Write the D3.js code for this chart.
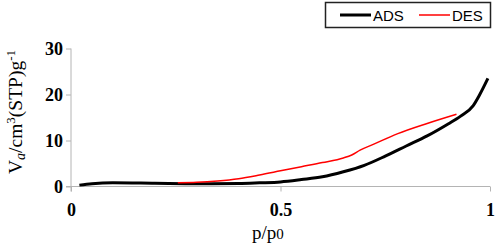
<!DOCTYPE html>
<html>
<head>
<meta charset="utf-8">
<script src="https://cdn.jsdelivr.net/npm/d3@7"></script>
<style>
  body { margin: 0; background: #fff; }
  svg { display: block; }
</style>
</head>
<body>
<script>
// isotherm data
const adsP = [0.02, 0.05, 0.1, 0.2, 0.3, 0.4, 0.45, 0.5, 0.55, 0.6, 0.65, 0.7, 0.75, 0.8, 0.85, 0.9, 0.93, 0.96, 0.975, 0.995];
const adsV = [0.3, 0.6, 0.8, 0.7, 0.6, 0.65, 0.8, 1.0, 1.5, 2.1, 3.2, 4.6, 6.6, 8.8, 11.0, 13.6, 15.3, 17.6, 19.9, 23.5];
const desP = [0.255, 0.3, 0.35, 0.4, 0.45, 0.5, 0.55, 0.6, 0.65, 0.67, 0.69, 0.72, 0.78, 0.85, 0.92];
const desV = [0.8, 0.9, 1.2, 1.7, 2.5, 3.4, 4.3, 5.2, 6.2, 6.85, 7.9, 9.1, 11.5, 13.7, 15.7];
const xTicks = [0, 0.5, 1];
const yTicks = [0, 10, 20, 30];

const width = 498, height = 248;

const x = d3.scaleLinear().domain([0, 1]).range([71, 490]);
const y = d3.scaleLinear().domain([0, 30]).range([186.5, 48.5]);

const svg = d3.select("body").append("svg")
    .attr("width", width)
    .attr("height", height);

// axes
const xAxis = svg.append("g")
    .attr("transform", `translate(0,${y(0)})`)
    .call(d3.axisBottom(x).tickValues(xTicks).tickSize(5).tickPadding(12)
        .tickFormat(d => d === 0 ? "0" : d === 1 ? "1" : "0.5"));

const yAxis = svg.append("g")
    .attr("transform", `translate(${x(0)},0)`)
    .call(d3.axisLeft(y).tickValues(yTicks).tickSize(5).tickPadding(3));

[xAxis, yAxis].forEach(g => {
    g.select(".domain").remove();
    g.selectAll(".tick line").attr("stroke", "#b4b4b4");
    g.selectAll("text")
        .attr("fill", "#000")
        .style("font", "bold 18px 'Liberation Serif', serif");
});

// axis lines, crossing at origin
svg.append("line")
    .attr("x1", x(0) - 5).attr("x2", x(1))
    .attr("y1", y(0)).attr("y2", y(0))
    .attr("stroke", "#b4b4b4");
svg.append("line")
    .attr("x1", x(0)).attr("x2", x(0))
    .attr("y1", y(30)).attr("y2", y(0) + 5)
    .attr("stroke", "#b4b4b4");

// curves
const line = d3.line()
    .x(d => x(d[0]))
    .y(d => y(d[1]))
    .curve(d3.curveMonotoneX);

svg.append("path")
    .datum(adsP.map((p, i) => [p, adsV[i]]))
    .attr("fill", "none")
    .attr("stroke", "#000")
    .attr("stroke-width", 3)
    .attr("d", line);

svg.append("path")
    .datum(desP.map((p, i) => [p, desV[i]]))
    .attr("fill", "none")
    .attr("stroke", "#ff0000")
    .attr("stroke-width", 1.5)
    .attr("d", line);

// axis titles
const xt = svg.append("text")
    .attr("x", 252).attr("y", 239)
    .style("font", "19px 'Liberation Serif', serif");
xt.append("tspan").text("p/p");
xt.append("tspan").attr("font-size", "15px").text("0");

const yt = svg.append("text")
    .attr("transform", "translate(22,174) rotate(-90)")
    .style("font", "19.5px 'Liberation Serif', serif");
yt.append("tspan").text("V");
yt.append("tspan").attr("font-size", "14px").attr("font-style", "italic").attr("dy", 3).text("a");
yt.append("tspan").attr("dy", -3).text("/cm");
yt.append("tspan").attr("font-size", "13px").attr("dy", -7).text("3");
yt.append("tspan").attr("dy", 7).text("(STP)g");
yt.append("tspan").attr("font-size", "13px").attr("dy", -7).text("-1");

// legend
const legend = svg.append("g");
legend.append("rect")
    .attr("x", 325.5).attr("y", 2.5)
    .attr("width", 165).attr("height", 25)
    .attr("fill", "#fff")
    .attr("stroke", "#222")
    .attr("stroke-width", 1.5);

const items = [
    { name: "ADS", color: "#000", w: 3, x0: 340 },
    { name: "DES", color: "#ff0000", w: 1.5, x0: 419 }
];
items.forEach(it => {
    legend.append("line")
        .attr("x1", it.x0).attr("x2", it.x0 + 31)
        .attr("y1", 15).attr("y2", 15)
        .attr("stroke", it.color)
        .attr("stroke-width", it.w);
    legend.append("text")
        .attr("x", it.x0 + 33).attr("y", 20.5)
        .style("font", "15px 'Liberation Sans', sans-serif")
        .text(it.name);
});
</script>
</body>
</html>
